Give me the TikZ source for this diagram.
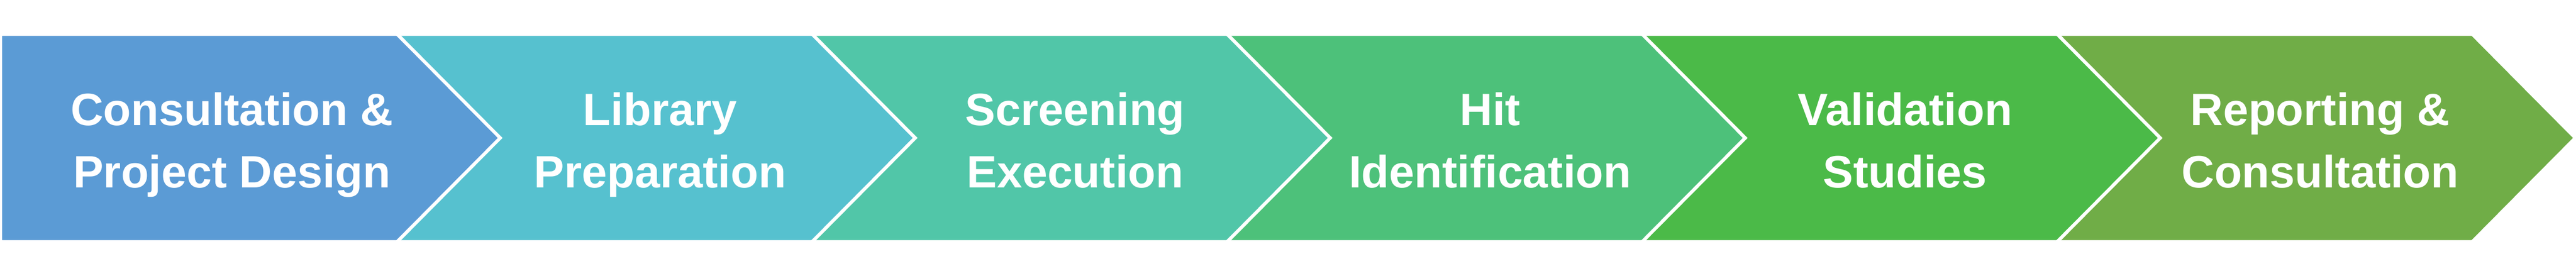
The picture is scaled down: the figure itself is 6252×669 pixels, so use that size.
\documentclass[tikz,border=0pt]{standalone}
\usepackage{fontspec}
\setmainfont{Liberation Sans}
\usetikzlibrary{positioning}
\definecolor{stepa}{HTML}{5B9BD5}
\definecolor{stepb}{HTML}{56C1CF}
\definecolor{stepc}{HTML}{51C6A8}
\definecolor{stepd}{HTML}{4DC17A}
\definecolor{stepe}{HTML}{4BBA48}
\definecolor{stepf}{HTML}{70AD47}
\newcommand{\steplabel}[2]{\strut #1\\\strut #2}

\begin{document}
\begin{tikzpicture}[x=0.01cm,y=0.01cm,
        stepshape/.style={draw=white,line width=0.08cm,line join=miter},
        steptext/.style={text=white,font=\bfseries\fontsize{31.3pt}{43.25pt}\selectfont,align=center,inner sep=0pt}]
    \useasboundingbox (0,0) rectangle (6252,669);
    \filldraw[stepshape,fill=stepa] (1,586) -- (964,586) -- (1214,334) -- (964,82) -- (1,82) -- cycle;
    \node[steptext] (step1) at (563,319.4) {\steplabel{Consultation \&}{Project Design}};
    \foreach \i/\c/\a/\b in {2/stepb/Library/Preparation,3/stepc/Screening/Execution,4/stepd/Hit/Identification,5/stepe/Validation/Studies,6/stepf/Reporting \&/Consultation} {
        \pgfmathsetmacro{\xl}{964+1007.25*(\i-2)}
        \filldraw[stepshape,fill=\c] (\xl,586) -- ++(1007.25,0) -- ++(250,-252) -- ++(-250,-252) -- ++(-1007.25,0) -- ++(250,252) -- cycle;
        \node[steptext] (step\i) at (\xl+638,319.4) {\steplabel{\a}{\b}};
    }
\end{tikzpicture}
\end{document}
